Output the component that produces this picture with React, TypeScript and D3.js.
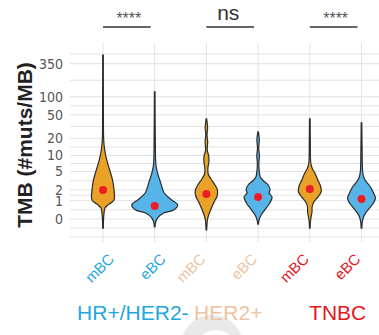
import React from "react";
import * as d3 from "d3";

const W = 379;
const H = 335;

// subtypes and stages
const subtypes = ["HR+/HER2-", "HER2+", "TNBC"];
const subtypeColors = ["#1FA6E0", "#EEC3A2", "#E3161D"];
const stages = ["mBC", "eBC"];
const stageFill: Record<string, string> = { mBC: "#E9A227", eBC: "#56B4E9" };

// violin outlines: [TMB, density]
const hrMbc = [[487, 0.03], [60, 0.04], [18.7, 0.07], [12.5, 0.17], [8.3, 0.37], [5.36, 0.67], [3.36, 0.95], [2.0, 1.1], [1.05, 1.1], [0.7, 0.5], [0.51, 0.2], [0.25, 0.1], [-0.04, 0.05], [-0.41, 0.03]];
const hrEbc = [[120, 0.03], [18.7, 0.06], [6.7, 0.12], [4.7, 0.28], [2.9, 0.6], [1.67, 0.95], [1.05, 1.7], [0.7, 2.3], [0.4, 1.9], [0.25, 0.9], [0.04, 0.3], [-0.12, 0.1], [-0.35, 0.03]];
const her2Mbc = [[42.6, 0.03], [30, 0.12], [22.8, 0.06], [17.3, 0.13], [12.5, 0.08], [9.8, 0.23], [7.6, 0.25], [5.86, 0.15], [4.47, 0.18], [3.53, 0.45], [2.75, 0.8], [1.99, 1.1], [1.38, 1.07], [0.9, 0.77], [0.51, 0.5], [0.16, 0.23], [-0.04, 0.1], [-0.51, 0.03]];
const her2Ebc = [[25.7, 0.03], [18.7, 0.12], [13.6, 0.06], [9.8, 0.13], [6.98, 0.07], [4.9, 0.13], [3.88, 0.22], [3.2, 0.55], [2.61, 1.0], [2.0, 1.2], [1.67, 1.1], [1.29, 1.4], [0.83, 1.17], [0.41, 0.67], [0.16, 0.3], [-0.04, 0.1], [-0.21, 0.03]];
const tnbcMbc = [[42.6, 0.03], [18.7, 0.05], [7.28, 0.1], [5.86, 0.23], [4.68, 0.5], [3.36, 0.8], [2.35, 1.1], [1.77, 1.13], [1.29, 0.8], [0.9, 0.4], [0.57, 0.23], [0.3, 0.22], [0.08, 0.13], [-0.12, 0.06], [-0.41, 0.03]];
const tnbcEbc = [[36.5, 0.03], [12.5, 0.06], [4.9, 0.12], [3.7, 0.25], [3.04, 0.5], [2.35, 0.9], [1.67, 1.2], [1.21, 1.4], [0.83, 1.2], [0.51, 0.8], [0.25, 0.4], [0.08, 0.2], [-0.12, 0.08], [-0.41, 0.03]];
const violins = [hrMbc, hrEbc, her2Mbc, her2Ebc, tnbcMbc, tnbcEbc];
const medians = [2.0, 0.63, 1.57, 1.29, 2.1, 1.13];

const sigLabels = ["****", "ns", "****"];
const yTicks = [0, 1, 2, 5, 10, 20, 50, 100, 350];
const extraGrid = [-0.97, -0.41, 506];

const categories = subtypes.flatMap((s) => stages.map((st) => `${s} ${st}`));

const x = d3.scalePoint<string>().domain(categories).range([103, 361.5]);
const y = d3.scaleSymlog().constant(1).domain([-1.21, 766]).range([240, 43]);
const w = d3.scaleLinear().domain([0, 1]).range([0, 10]);

const minorGrid = d3.pairs(yTicks).map(([a, b]) => y.invert((y(a) + y(b)) / 2));
const gridVals = [...yTicks, ...minorGrid, ...extraGrid];

const font = "'Liberation Sans', Arial, sans-serif";
const narrow = "'Liberation Sans Narrow', 'Arial Narrow', 'DejaVu Sans Condensed', sans-serif";

const App = () => {
  const labelShift = [12, 0, 0];
  const subtypeShift = [4, -4, 2];

  return (
    <svg width={W} height={H} style={{ position: "absolute", left: 0, top: 0, background: "#fff" }}>
      {/* grid */}
      {gridVals.map((v, i) => (
        <line key={"h" + i} x1={70} x2={W} y1={y(v)} y2={y(v)} stroke="#e3e3e3" strokeWidth={1} />
      ))}
      {categories.map((c) => (
        <line key={"v" + c} x1={x(c)} x2={x(c)} y1={43} y2={242} stroke="#e3e3e3" strokeWidth={1} />
      ))}

      {/* y axis labels */}
      {yTicks.map((t) => (
        <text key={"t" + t} x={63} y={y(t)} dy="0.35em" textAnchor="end" fontFamily={narrow}
          fontSize={14} fill="#555">{t}</text>
      ))}
      <text transform={`translate(32,145) rotate(-90)`} textAnchor="middle" fontFamily={font}
        fontWeight="bold" fontSize={21} fill="#222">TMB (#muts/MB)</text>

      {/* violins */}
      {violins.map((pts, i) => {
        const cx = x(categories[i])!;
        const area = d3.area<number[]>()
          .x0((d) => cx - w(d[1]))
          .x1((d) => cx + w(d[1]))
          .y((d) => y(d[0]))
          .curve(d3.curveCatmullRom);
        return (
          <g key={"vi" + i}>
            <path d={area(pts) || ""} fill={stageFill[stages[i % 2]]} stroke="#2b2b2b" strokeWidth={1.2} />
            <circle cx={cx} cy={y(medians[i])} r={4} fill="#EE1C25" />
          </g>
        );
      })}

      {/* significance */}
      {sigLabels.map((s, i) => {
        const a = x(categories[i * 2])!;
        const b = x(categories[i * 2 + 1])!;
        const mid = (a + b) / 2;
        return (
          <g key={"s" + i}>
            <line x1={a} x2={b - 4} y1={27} y2={27} stroke="#333" strokeWidth={1.3} />
            {s === "ns" ? (
              <text x={mid - 4} y={20} textAnchor="middle" fontFamily={font} fontSize={21} fill="#333">{s}</text>
            ) : (
              <text x={mid} y={23.5} textAnchor="middle" fontFamily={font} fontSize={16} fill="#555">{s}</text>
            )}
          </g>
        );
      })}

      {/* x labels */}
      {categories.map((c, i) => {
        const g = Math.floor(i / 2);
        return (
          <text key={"x" + c} transform={`translate(${x(c)! + labelShift[g]},260) rotate(-45)`}
            textAnchor="end" fontFamily={font} fontSize={15} fill={subtypeColors[g]}>{stages[i % 2]}</text>
        );
      })}

      {/* watermark ring */}
      <circle cx={212} cy={346} r={31} fill="#e9e9e9" />
      <circle cx={216} cy={352} r={22} fill="#fff" />

      {/* subtype labels */}
      {subtypes.map((s, g) => {
        const mid = (x(categories[g * 2])! + x(categories[g * 2 + 1])!) / 2;
        return (
          <text key={"g" + s} x={mid + subtypeShift[g]} y={320} textAnchor="middle" fontFamily={font}
            fontSize={21} fill={subtypeColors[g]}>{s}</text>
        );
      })}
    </svg>
  );
};

export default App;
